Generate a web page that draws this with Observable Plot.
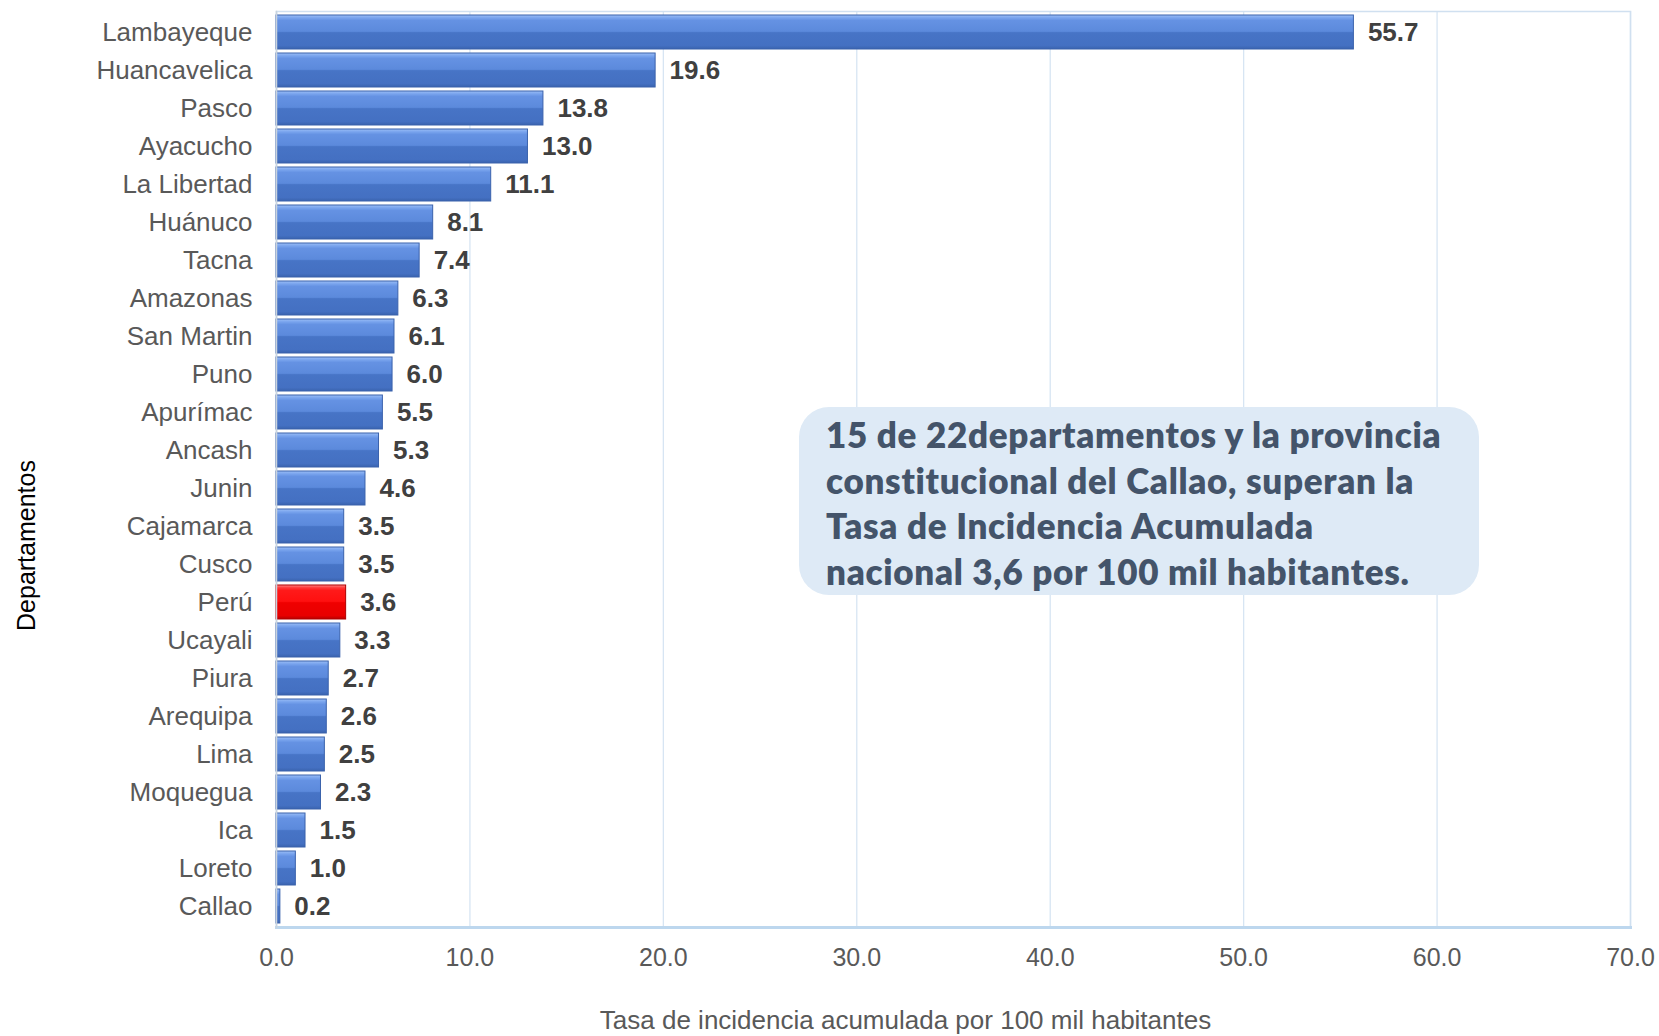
<!DOCTYPE html>
<html>
<head>
<meta charset="utf-8">
<script src="https://cdn.jsdelivr.net/npm/d3@7"></script>
<script src="https://cdn.jsdelivr.net/npm/@observablehq/plot@0.6"></script>
<style>
  html, body { margin: 0; padding: 0; background: #ffffff; }
  #wrap { position: relative; width: 1659px; height: 1036px; }
  #wrap svg text { font-family: "Liberation Sans", Arial, sans-serif; }
  #note {
    position: absolute; left: 799px; top: 407px; width: 680px; height: 188px;
    box-sizing: border-box; padding: 5px 6px 0 27px;
    background: #DEEAF6; border-radius: 30px;
    font-family: Lato, "Noto Sans", sans-serif; font-weight: 800;
    font-size: 35px; line-height: 45.5px; letter-spacing: 0.7px; color: #44546A;
    white-space: nowrap;
  }
</style>
</head>
<body>
<div id="wrap"><div id="note"></div></div>
<script>
const departamentos = ["Lambayeque","Huancavelica","Pasco","Ayacucho","La Libertad","Huánuco","Tacna","Amazonas","San Martin","Puno","Apurímac","Ancash","Junin","Cajamarca","Cusco","Perú","Ucayali","Piura","Arequipa","Lima","Moquegua","Ica","Loreto","Callao"];
const tasas = [55.7,19.6,13.8,13.0,11.1,8.1,7.4,6.3,6.1,6.0,5.5,5.3,4.6,3.5,3.5,3.6,3.3,2.7,2.6,2.5,2.3,1.5,1.0,0.2];
const xTicks = [0,10,20,30,40,50,60,70];
const nacional = "Perú";
const notaLineas = [
  "15 de 22departamentos y la provincia",
  "constitucional del Callao, superan la",
  "Tasa de Incidencia Acumulada",
  "nacional 3,6 por 100 mil habitantes."
];
const xTitulo = "Tasa de incidencia acumulada por 100 mil habitantes";
const yTitulo = "Departamentos";

const data = departamentos.map((d, i) => ({dept: d, value: tasas[i]}));
const font = "Liberation Sans, Arial, sans-serif";

const chart = Plot.plot({
  width: 1659,
  height: 1036,
  marginLeft: 276,
  marginRight: 29,
  marginTop: 11,
  marginBottom: 109,
  style: "font-family: 'Liberation Sans', Arial, sans-serif; background: transparent;",
  x: {domain: [0, 70]},
  y: {domain: departamentos, padding: 0.1},
  marks: [
    Plot.gridX(xTicks, {stroke: "#D7E5F3", strokeOpacity: 1, strokeWidth: 1.3}),
    Plot.frame({stroke: "#D0E0F0", strokeWidth: 1.5}),
    Plot.barX(data.filter(d => d.dept !== nacional), {x: "value", y: "dept", fill: "url(#gblue)", stroke: "#3A62AC", strokeWidth: 1}),
    Plot.barX(data.filter(d => d.dept === nacional), {x: "value", y: "dept", fill: "url(#gred)", stroke: "#B00000", strokeWidth: 1}),
    Plot.frame({anchor: "bottom", stroke: "#BDD7EE", strokeWidth: 3}),
    Plot.frame({anchor: "left", stroke: "#C9D3DE", strokeWidth: 1.5}),
    Plot.text(data, {x: "value", y: "dept", text: d => d.value.toFixed(1), dx: 14, textAnchor: "start",
      fontWeight: "bold", fontSize: 26, fill: "#404040", fontFamily: font}),
    Plot.axisX(xTicks, {tickSize: 0, tickPadding: 21, fontSize: 25, color: "#595959", fontFamily: font,
      tickFormat: d3.format(".1f"), label: null}),
    Plot.axisY({tickSize: 0, tickPadding: 24, fontSize: 26, color: "#595959", fontFamily: font, label: null}),
    Plot.text([xTitulo], {text: d => d, frameAnchor: "bottom", textAnchor: "middle", lineAnchor: "middle",
      dx: -48, dy: 93, fontSize: 26, fill: "#595959", fontFamily: font}),
    Plot.text([yTitulo], {text: d => d, frameAnchor: "left", textAnchor: "middle", lineAnchor: "middle",
      rotate: -90, dx: -250, dy: 76, fontSize: 25, fill: "#000000", fontFamily: font})
  ]
});

// gradients for bevelled bars
const defs = d3.select(chart).insert("defs", ":first-child");
function grad(id, stops) {
  const g = defs.append("linearGradient").attr("id", id).attr("x1", 0).attr("y1", 0).attr("x2", 0).attr("y2", 1);
  stops.forEach(([o, c]) => g.append("stop").attr("offset", o).attr("stop-color", c));
}
grad("gblue", [[0, "#9DBFF6"], [0.08, "#7AA5EE"], [0.16, "#6592E3"], [0.48, "#5C8ADC"], [0.52, "#4774C6"], [0.9, "#4470C2"], [1, "#3A63AE"]]);
grad("gred", [[0, "#FF8A8A"], [0.08, "#FF3A3A"], [0.16, "#FF1A1A"], [0.48, "#FF1010"], [0.52, "#F00000"], [0.9, "#E80000"], [1, "#B80000"]]);

document.getElementById("wrap").prepend(chart);
chart.style.position = "absolute";
chart.style.left = "0px";
chart.style.top = "0px";
const note = document.getElementById("note");
note.innerHTML = notaLineas.map(l => `<div>${l}</div>`).join("");
</script>
</body>
</html>
